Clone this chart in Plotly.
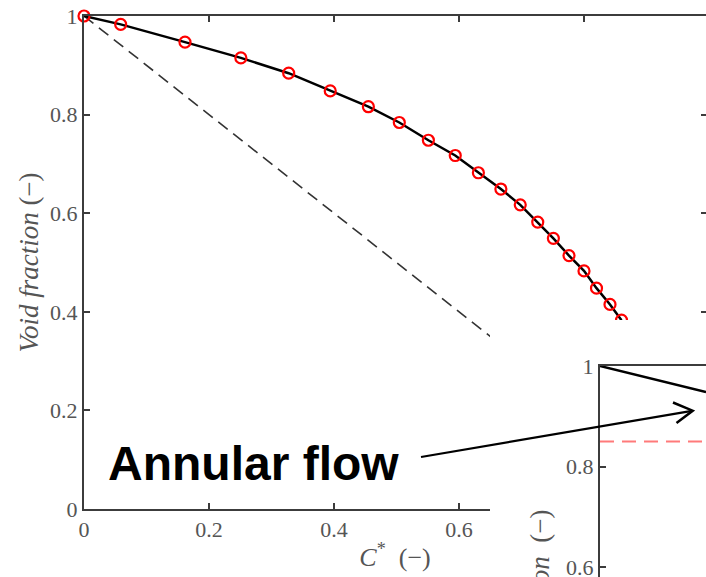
import plotly.graph_objects as go

# ---- data ----
c_star = [0.0, 0.0587, 0.1616, 0.251, 0.3275, 0.394, 0.455, 0.5045, 0.551, 0.594,
          0.631, 0.667, 0.698, 0.726, 0.751, 0.776, 0.800, 0.820, 0.8416, 0.860]
void_frac = [1.0, 0.983, 0.947, 0.915, 0.884, 0.848, 0.816, 0.784, 0.748, 0.717,
             0.682, 0.649, 0.617, 0.582, 0.549, 0.514, 0.483, 0.448, 0.415, 0.383]
homog_x = [0.0, 1.0]
homog_y = [1.0, 0.0]
inset_x = [0.0, 0.2]
inset_y = [1.0, 0.948]
inset_ref_x = [0.0, 0.2]
inset_ref_y = [0.85, 0.85]
main_ticks = [0, 0.2, 0.4, 0.6, 0.8, 1]
inset_ticks = [0.6, 0.8, 1]

W, H = 706, 577
def px(x):
    return x / W
def py(y):
    return 1 - y / H

AX = "#3c3c3c"
TXT = "#555555"
TICKFONT = dict(family="Liberation Serif", size=22, color=TXT)
TITLEFONT = dict(family="Liberation Serif", size=27, color=TXT)

fig = go.Figure()
fig.add_trace(go.Scatter(x=homog_x, y=homog_y, mode="lines",
                         line=dict(color="#333333", width=1.6, dash="12px,7px"),
                         showlegend=False))
fig.add_trace(go.Scatter(x=c_star, y=void_frac, mode="lines+markers", cliponaxis=False,
                         line=dict(color="black", width=2.5),
                         marker=dict(symbol="circle-open", size=11, color="red",
                                     line=dict(width=2.2, color="red")),
                         showlegend=False))
# right-side ticks (no line)
fig.add_trace(go.Scatter(x=[None], y=[None], yaxis="y2", showlegend=False))
# white cover region
fig.add_trace(go.Scatter(x=[None], y=[None], xaxis="x3", yaxis="y3", showlegend=False))
# inset
fig.add_trace(go.Scatter(x=inset_ref_x, y=inset_ref_y, xaxis="x4", yaxis="y4", mode="lines",
                         line=dict(color="#ff7a7a", width=2, dash="14px,8px"),
                         showlegend=False))
fig.add_trace(go.Scatter(x=inset_x, y=inset_y, xaxis="x4", yaxis="y4", mode="lines",
                         line=dict(color="black", width=2.5), showlegend=False))

fig.update_layout(
    template="none",
    width=W, height=H,
    margin=dict(l=0, r=0, t=0, b=0, autoexpand=False),
    paper_bgcolor="white", plot_bgcolor="white",
    showlegend=False,
    xaxis=dict(domain=[px(84), 1], range=[0, 622 / 625], tickvals=main_ticks,
               showline=True, linecolor=AX, linewidth=2, mirror="ticks",
               ticks="inside", ticklen=6, tickwidth=2, tickcolor=AX,
               showgrid=False, zeroline=False, tickfont=TICKFONT, automargin=False,
               title=dict(text="<i>C</i><sup>*</sup>&nbsp;&nbsp;(−)", standoff=6,
                          font=dict(family="Liberation Serif", size=26, color=TXT)),
               anchor="y"),
    yaxis=dict(domain=[1 - 509 / H, 1 - 16 / H], range=[0, 1], tickvals=main_ticks,
               showline=True, linecolor=AX, linewidth=2,
               ticks="inside", ticklen=6, tickwidth=2, tickcolor=AX,
               showgrid=False, zeroline=False, tickfont=TICKFONT, automargin=False,
               title=dict(text="<i>Void fraction</i>&nbsp;(−)", standoff=4,
                          font=TITLEFONT),
               anchor="x"),
    yaxis2=dict(overlaying="y", side="right", range=[0, 1], tickvals=main_ticks,
                showline=False, ticks="inside", ticklen=5, tickwidth=2, tickcolor=AX,
                showticklabels=False, showgrid=False, zeroline=False, anchor="x",
                automargin=False),
    xaxis3=dict(domain=[px(490), 1], visible=False, anchor="y3", automargin=False),
    yaxis3=dict(domain=[0, py(320)], visible=False, anchor="x3", automargin=False),
    xaxis4=dict(domain=[px(600), 1], range=[0, 0.2], side="top", anchor="y4",
                showline=True, linecolor=AX, linewidth=2, ticks="",
                showticklabels=False, showgrid=False, zeroline=False, automargin=False),
    yaxis4=dict(domain=[0, py(366)], range=[1 - 211 * 0.2 / 100.5, 1], tickvals=inset_ticks,
                anchor="x4", showline=True, linecolor=AX, linewidth=2,
                ticks="inside", ticklen=6, tickwidth=2, tickcolor=AX,
                showgrid=False, zeroline=False, tickfont=TICKFONT, automargin=False,
                ticklabeloverflow="allow"),
)

fig.add_annotation(text="Annular flow", xref="paper", yref="paper",
                   x=px(106), y=py(463), xanchor="left", yanchor="middle",
                   showarrow=False,
                   font=dict(family="Liberation Sans", size=48, color="black", weight="bold"))
fig.add_annotation(text="<i>Void fraction</i>&nbsp;&nbsp;(−)", xref="paper", yref="paper",
                   x=px(539), y=py(508), xanchor="center", yanchor="top", textangle=-90,
                   showarrow=False, font=TITLEFONT)

# arrow
fig.add_shape(type="line", xref="paper", yref="paper",
              x0=px(421), y0=py(457), x1=px(692), y1=py(410.8),
              line=dict(color="black", width=2.2), layer="above")
fig.add_shape(type="path", xref="paper", yref="paper",
              path=f"M {px(673)} {py(402.5)} L {px(692.7)} {py(410.7)} L {px(676.5)} {py(423)}",
              line=dict(color="black", width=2.5), layer="above")

fig.write_html("out.html")
